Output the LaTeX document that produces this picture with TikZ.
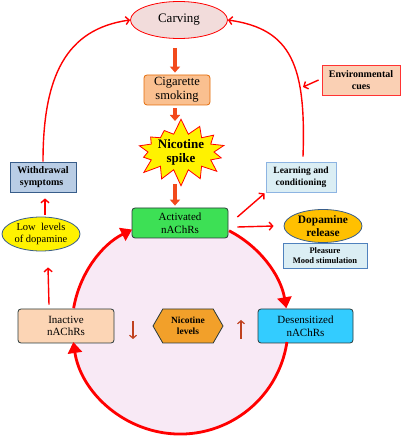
\documentclass[tikz,border=0pt]{standalone}
\usepackage{fontspec}
\setmainfont{Liberation Serif}
\usetikzlibrary{arrows.meta,shapes.geometric,shapes.symbols}

\definecolor{cravefill}{HTML}{F2DCDB}
\definecolor{cigfill}{HTML}{FAC090}
\definecolor{cigline}{HTML}{E46C0A}
\definecolor{actfill}{HTML}{3DE055}
\definecolor{darkline}{HTML}{2B3A3A}
\definecolor{paleblue}{HTML}{DBEEF4}
\definecolor{lightline}{HTML}{8DB4E2}
\definecolor{blueline}{HTML}{4F81BD}
\definecolor{slateline}{HTML}{385D8A}
\definecolor{dopafill}{HTML}{FFC000}
\definecolor{wdfill}{HTML}{B9CDE5}
\definecolor{peach}{HTML}{FCD5B5}
\definecolor{cuefill}{HTML}{FAD0B4}
\definecolor{hexfill}{HTML}{F2A02A}
\definecolor{desfill}{HTML}{33CCFF}
\definecolor{loopfill}{HTML}{F8E9F5}
\definecolor{blockred}{HTML}{F24A1C}
\definecolor{lvlred}{HTML}{C0411F}

\tikzset{
  box/.style={draw=darkline, line width=0.8pt, rounded corners=3pt, align=center, inner sep=1pt},
  oval/.style={ellipse, line width=0.8pt, align=center, inner sep=0pt},
  bigarrow/.style={line width=3.5pt, draw=blockred, -{Triangle[width=10pt,length=6pt]}},
  cycarrow/.style={line width=1.4pt, draw=red, -{Straight Barb[length=3.5pt,width=8pt]}},
  looparrow/.style={line width=2.8pt, draw=red, -{Triangle[width=14pt,length=11pt]}},
  lvlarrow/.style={line width=1.2pt, draw=lvlred, -{Straight Barb[length=3pt,width=7pt]}},
  fnt/.style 2 args={font=\fontsize{#1}{#2}\selectfont},
}

\begin{document}
\begin{tikzpicture}[x=1pt,y=1pt]
\useasboundingbox (0,0) rectangle (403,437);

% nAChR cycle
\node[circle, minimum size=216pt, inner sep=0pt, outer sep=0pt, fill=loopfill] (loop) at (180,110) {};

% main column
\node[oval, draw=red, fill=cravefill, minimum width=97pt, minimum height=37pt, fnt={13}{15}] (crave) at (179,417) {Carving};
\node[box, draw=cigline, fill=cigfill, minimum width=66pt, minimum height=30pt, fnt={12.5}{14}] (cig) at (177,347) {Cigarette\\smoking};
\node[starburst, starburst points=14, starburst point height=16pt, random starburst=7,
      draw=red, line width=0.8pt, fill=yellow, minimum width=98pt, minimum height=60pt,
      inner sep=0pt, align=center, fnt={13}{14}] (spike) at (181,285) {\bfseries Nicotine\\\bfseries spike};
\node[box, fill=actfill, minimum width=96pt, minimum height=30pt, fnt={11}{12.5}] (act) at (180,214) {Activated\\nAChRs};

% cycle states
\node[box, fill=peach, minimum width=96pt, minimum height=34pt, fnt={11}{12.5}] (inact) at (66,111) {Inactive\\nAChRs};
\node[signal, signal to=east and west, signal pointer angle=120, draw=darkline, line width=0.8pt,
      fill=hexfill, minimum width=70pt, minimum height=34pt, inner sep=1pt, align=center,
      fnt={9.5}{11.5}] (hex) at (188,111) {\bfseries Nicotine\\\bfseries levels};
\node[box, fill=desfill, minimum width=95pt, minimum height=34pt, fnt={11}{12.5}] (des) at (305.5,111) {Desensitized\\nAChRs};

% left side
\node[oval, draw=slateline, fill=yellow, minimum width=78pt, minimum height=34pt, fnt={10.5}{12}] (lowlev) at (41,203) {Low\ \ levels\\of dopamine};
\node[box, draw=slateline, rounded corners=0pt, fill=wdfill, minimum width=66pt, minimum height=30pt, fnt={10}{12}] (wd) at (43,260) {\bfseries Withdrawal\\\bfseries symptoms\phantom{l}};

% right side
\node[box, draw=lightline, rounded corners=0pt, fill=paleblue, minimum width=70pt, minimum height=30pt, fnt={9.5}{12}] (learn) at (301,260) {\bfseries Learning and\\\bfseries conditioning};
\node[oval, draw=slateline, fill=dopafill, minimum width=78pt, minimum height=33pt, fnt={11.4}{13}] (dopa) at (323,211) {\bfseries Dopamine\\\bfseries release};
\node[box, draw=blueline, rounded corners=0pt, fill=paleblue, minimum width=84pt, minimum height=25pt, fnt={8.5}{10}] (pleas) at (325,181.5) {\bfseries Pleasure\\\bfseries Mood stimulation};
\node[box, draw=red!80, rounded corners=0pt, fill=cuefill, minimum width=78pt, minimum height=30pt, fnt={10}{12}] (cue) at (361,357) {\bfseries Environmental\\\bfseries cues};

% thick arrows down the column
\draw[bigarrow] ([xshift=-4pt,yshift=-9pt]crave.south) -- ([xshift=-2pt,yshift=2pt]cig.north);
\draw[bigarrow] ([xshift=-2pt,yshift=-3pt]cig.south) -- ([xshift=-6pt,yshift=31pt]spike.center);
\draw[bigarrow] ([xshift=-6pt,yshift=-32pt]spike.center) -- ([xshift=-5pt,yshift=2pt]act.north);

% arcs of the cycle
\draw[looparrow] (loop.63) arc[start angle=63, end angle=10, radius=108pt];
\draw[looparrow] (loop.-8.5) arc[start angle=-8.5, end angle=-171.5, radius=108pt];
\draw[looparrow] (loop.170.4) arc[start angle=170.4, end angle=116.4, radius=108pt];

% nicotine level marks
\coordinate (dnA) at (133,116);
\coordinate (dnB) at (133,98);
\coordinate (upA) at (241,98);
\coordinate (upB) at (241,117);
\draw[lvlarrow] (dnA) -- (dnB);
\draw[lvlarrow] (upA) -- (upB);

% outer loop
\draw[cycarrow] ([xshift=-17pt,yshift=4pt]inact.north) -- ([xshift=7pt,yshift=-16pt]lowlev.south);
\draw[cycarrow] ([xshift=4pt,yshift=2pt]lowlev.north) -- ([xshift=2pt,yshift=-6pt]wd.south);
\draw[cycarrow] (wd.north) .. controls +(90:85) and +(188:65) .. (crave.west);
\draw[cycarrow] ([xshift=2pt,yshift=5pt]learn.north) .. controls +(88:90) and +(-8:65) .. (crave.east);
\coordinate (cuetip) at (303,350);
\draw[cycarrow] ([xshift=-3pt]cue.west) -- (cuetip);
\draw[cycarrow] ([xshift=9pt,yshift=6pt]act.east) -- ([xshift=-1pt,yshift=-1pt]learn.south west);
\draw[cycarrow] ([xshift=9pt,yshift=-4pt]act.east) -- ([xshift=-10pt]dopa.west);
\end{tikzpicture}
\end{document}
